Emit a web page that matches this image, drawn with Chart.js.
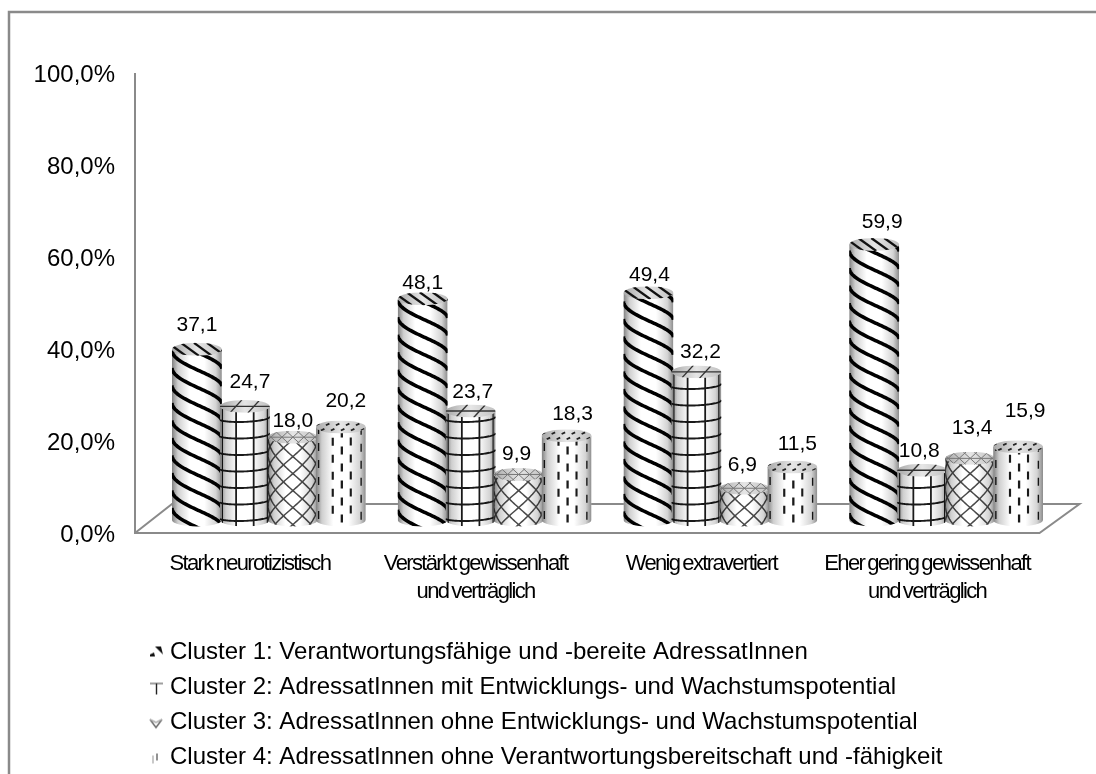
<!DOCTYPE html>
<html><head><meta charset="utf-8">
<style>html,body{margin:0;padding:0;background:#fff}canvas{display:block}</style>
<script src="https://cdn.jsdelivr.net/npm/chart.js@4/dist/chart.umd.js"></script>
</head><body><canvas id="c" width="1096" height="774"></canvas>
<script>
const categories = [
  "Stark neurotizistisch",
  ["Verstärkt gewissenhaft","und verträglich"],
  "Wenig extravertiert",
  ["Eher gering gewissenhaft","und verträglich"]
];
const seriesNames = [
  "Cluster 1: Verantwortungsfähige und -bereite AdressatInnen",
  "Cluster 2: AdressatInnen mit Entwicklungs- und Wachstumspotential",
  "Cluster 3: AdressatInnen ohne Entwicklungs- und Wachstumspotential",
  "Cluster 4: AdressatInnen ohne Verantwortungsbereitschaft und -fähigkeit"
];
const cluster1 = [37.1, 48.1, 49.4, 59.9];
const cluster2 = [24.7, 23.7, 32.2, 10.8];
const cluster3 = [18.0, 9.9, 6.9, 13.4];
const cluster4 = [20.2, 18.3, 11.5, 15.9];
const yTicks = [0, 20, 40, 60, 80, 100];
// label nudges (dx, dy from bar top), per series then category
const labelNudge = [
  [[0,-24],[0,-16],[1,-18],[8,-22]],
  [[5,-24],[2,-19],[4,-20],[-3,-19]],
  [[0,-16],[-2,-20],[-2,-23],[2,-30]],
  [[5,-26],[6,-22],[5,-23],[7,-36]]
];
const GRAY = '#8a8a8a', LIFT = 13, FONT = '"Liberation Sans", Arial, sans-serif';
let currentKind = 0;

function band(ctx, cx, r, e, y0, s, lw, color){
  ctx.beginPath();
  let first=true;
  for(let t=-Math.PI/2; t<=Math.PI/2+0.001; t+=0.06){
    const x=cx+r*Math.sin(t), y=y0+s*t+e*Math.cos(t);
    if(first){ctx.moveTo(x,y);first=false;} else ctx.lineTo(x,y);
  }
  ctx.lineWidth=lw; ctx.strokeStyle=color; ctx.stroke();
}
const bodyTex = [
  (ctx,cx,r,e,top,base)=>{ for(let y=base+40+(cx%7);y>top-60;y-=17.5) band(ctx,cx,r,e*.2,y,11.5,3.6,'#000'); },
  (ctx,cx,r,e,top,base)=>{
    for(let y=base-3;y>top-10;y-=16.5) band(ctx,cx,r,e*.6,y,-1,1.9,'#1a1a1a');
    [-1.12,-0.36,0.36,1.12].forEach(t=>{
      const x=cx+r*Math.sin(t);
      ctx.beginPath();ctx.moveTo(x,top);ctx.lineTo(x,base+e);
      ctx.lineWidth=1.9*Math.max(.6,Math.cos(t));ctx.strokeStyle='#1a1a1a';ctx.stroke();
    });
  },
  (ctx,cx,r,e,top,base)=>{
    for(let y=base+70;y>top-70;y-=17){
      band(ctx,cx,r,e*.4,y,22,1.5,'#4a4a4a');
      band(ctx,cx,r,e*.4,y,-22,1.5,'#4a4a4a');
    }
  },
  (ctx,cx,r,e,top,base)=>{
    [-1.1,-0.33,0.04,0.41,0.95].forEach((t,i)=>{
      const x=cx+r*Math.sin(t), off=(i%2)*8.5;
      ctx.lineWidth=2.3*Math.max(.6,Math.cos(t));ctx.strokeStyle='#1a1a1a';
      for(let y=base+e*Math.cos(t)-4-off;y>top-8;y-=17){
        ctx.beginPath();ctx.moveTo(x,y);ctx.lineTo(x,y-8);ctx.stroke();
      }
    });
  }
];
const capTex = [
  (ctx,cx,r,e,top)=>{ctx.strokeStyle='#111';ctx.lineWidth=2.3;
    for(let x=cx-r-8;x<cx+r+8;x+=13){ctx.beginPath();ctx.moveTo(x-9,top-e);ctx.lineTo(x+9,top+e);ctx.stroke();}},
  (ctx,cx,r,e,top)=>{ctx.strokeStyle='#333';ctx.lineWidth=1.4;
    ctx.beginPath();ctx.moveTo(cx-r,top);ctx.lineTo(cx+r,top);ctx.stroke();
    [-9,9].forEach(d=>{ctx.beginPath();ctx.moveTo(cx+d-6,top+e);ctx.lineTo(cx+d+6,top-e);ctx.stroke();});},
  (ctx,cx,r,e,top)=>{ctx.strokeStyle='#777';ctx.lineWidth=1;
    ctx.beginPath();ctx.moveTo(cx-r,top);ctx.lineTo(cx+r,top);ctx.stroke();
    for(let x=cx-r-8;x<cx+r+8;x+=11){
      ctx.beginPath();ctx.moveTo(x-7,top-e);ctx.lineTo(x+7,top+e);ctx.stroke();
      ctx.beginPath();ctx.moveTo(x+7,top-e);ctx.lineTo(x-7,top+e);ctx.stroke();}},
  (ctx,cx,r,e,top)=>{ctx.strokeStyle='#222';ctx.lineWidth=1.8;
    [[-2.6,-14],[2.6,-9]].forEach(([dy,o])=>{for(let x=cx-r+o+14;x<cx+r;x+=10){
      ctx.beginPath();ctx.moveTo(x,top+dy+0.8);ctx.lineTo(x+3.5,top+dy-0.8);ctx.stroke();}});}
];
function drawCylinder(ctx, bar){
  const kind = currentKind;
  const cx=bar.x, r=bar.width/2*1.04, e=r*0.26, top=bar.y, base=bar.base;
  ctx.save(); ctx.translate(0,-LIFT);
  ctx.save();
  ctx.beginPath(); ctx.moveTo(cx-r,top); ctx.lineTo(cx-r,base);
  ctx.ellipse(cx,base,r,e,0,Math.PI,0,true); ctx.lineTo(cx+r,top); ctx.closePath();
  ctx.clip();
  ctx.fillStyle='#fff'; ctx.fillRect(cx-r,top-e,2*r,base-top+3*e);
  bodyTex[kind](ctx,cx,r,e,top,base);
  const g=ctx.createLinearGradient(cx-r,0,cx+r,0);
  g.addColorStop(0,'#808080');g.addColorStop(.12,'#cfcfcf');g.addColorStop(.35,'#fff');
  g.addColorStop(.65,'#fff');g.addColorStop(.88,'#d4d4d4');g.addColorStop(1,'#8c8c8c');
  ctx.globalCompositeOperation='multiply';
  ctx.fillStyle=g; ctx.fillRect(cx-r,top-e,2*r,base-top+3*e);
  ctx.restore();
  ctx.save();
  ctx.beginPath(); ctx.ellipse(cx,top,r,e,0,0,Math.PI*2); ctx.clip();
  const c=ctx.createLinearGradient(cx-r,0,cx+r,0);
  c.addColorStop(0,'#a8a8a8');c.addColorStop(.5,'#e6e6e6');c.addColorStop(1,'#c0c0c0');
  ctx.fillStyle=c; ctx.fillRect(cx-r,top-e,2*r,2*e);
  capTex[kind](ctx,cx,r,e,top);
  ctx.restore();
  ctx.restore();
}
Chart.BarElement.prototype.draw = function(ctx){ drawCylinder(ctx,this); };

function swatch(kind){
  const s=document.createElement('canvas'); s.width=30; s.height=16;
  const x=s.getContext('2d'); x.translate(14,1); x.strokeStyle='#000';
  if(kind===0){ x.fillStyle='#111';
    x.beginPath();x.moveTo(6,1);x.lineTo(12,1);x.lineTo(14,9);x.closePath();x.fill();
    x.beginPath();x.moveTo(1,9);x.lineTo(5,7);x.lineTo(6,11);x.lineTo(1,11);x.closePath();x.fill();
  } else if(kind===1){ x.lineWidth=1.4;x.strokeStyle='#777';
    x.beginPath();x.moveTo(1,3);x.lineTo(14,3);x.stroke();
    x.strokeStyle='#222';x.beginPath();x.moveTo(7.5,3);x.lineTo(7.5,14);x.stroke();
  } else if(kind===2){ x.lineWidth=1.4;x.strokeStyle='#666';
    x.beginPath();x.moveTo(1,4);x.lineTo(7,12);x.lineTo(13,4);x.stroke();
    x.strokeStyle='#aaa';x.beginPath();x.moveTo(1,4);x.lineTo(7,7);x.lineTo(13,4);x.stroke();
  } else { x.lineWidth=1.6;x.strokeStyle='#777';
    x.beginPath();x.moveTo(8,3);x.lineTo(8,10);x.stroke();
    x.strokeStyle='#bbb';x.beginPath();x.moveTo(4,5);x.lineTo(4,13);x.stroke();
  }
  return s;
}

const scene = {
  id:'scene',
  beforeDraw(chart){
    const {ctx,width,height}=chart;
    ctx.save(); ctx.fillStyle='#fff'; ctx.fillRect(0,0,width,height);
    ctx.strokeStyle=GRAY; ctx.lineWidth=2.5;
    ctx.beginPath(); ctx.moveTo(9,height); ctx.lineTo(9,12); ctx.lineTo(width,12); ctx.stroke();
    ctx.restore();
    const xs=chart.scales.x;
    if(!xs._spaced){ xs._spaced=true; const o=xs.drawLabels;
      xs.drawLabels=function(a){ ctx.save(); ctx.letterSpacing='-1.65px'; ctx.wordSpacing='-1.5px'; o.call(this,a); ctx.restore(); }; }
  },
  beforeDatasetsDraw(chart){
    const {ctx,chartArea:a,scales:{y}}=chart;
    const b=y.getPixelForValue(0), t=y.getPixelForValue(100);
    ctx.save(); ctx.strokeStyle=GRAY; ctx.lineWidth=2;
    ctx.beginPath(); ctx.moveTo(a.left-21,t); ctx.lineTo(a.left-21,b);
    ctx.lineTo(a.right-19.5,b); ctx.lineTo(a.right+20.5,b-29); ctx.lineTo(a.left+16,b-29); ctx.lineTo(a.left-21,b);
    ctx.stroke(); ctx.restore();
  },
  beforeDatasetDraw(){ return false; },
  afterDatasetsDraw(chart){
    const {ctx}=chart;
    [0,1,2,3].forEach(i=>{ currentKind=i; chart.getDatasetMeta(i).controller.draw(); });
    ctx.save(); ctx.fillStyle='#000'; ctx.font='21px '+FONT;
    ctx.textAlign='center'; ctx.textBaseline='middle';
    chart.data.datasets.forEach((ds,i)=>{
      chart.getDatasetMeta(i).data.forEach((bar,j)=>{
        const [dx,dy]=labelNudge[i][j];
        ctx.fillText(ds.data[j].toFixed(1).replace('.',','),bar.x+dx,bar.y-LIFT+dy);
      });
    });
    ctx.restore();
  },
  afterLayout(chart){
    const l=chart.legend;
    l.left=131; l.right=1131; l.width=1000; l.top=629.5; l.bottom=l.top+l.height;
  }
};

new Chart(document.getElementById('c'),{
  type:'bar',
  data:{labels:categories,datasets:[cluster1,cluster2,cluster3,cluster4].map((d,i)=>({
    label:seriesNames[i],data:d,backgroundColor:'#fff',categoryPercentage:.85,barPercentage:1}))},
  plugins:[scene],
  options:{
    responsive:false,animation:false,devicePixelRatio:1,
    layout:{autoPadding:false,padding:{top:73,left:20,right:37,bottom:0}},
    scales:{
      x:{grid:{display:false,drawTicks:false},border:{display:false},
        afterFit(s){ s.height=774-532-151; },
        ticks:{autoSkip:false,maxRotation:0,minRotation:0,padding:17,labelOffset:-19,color:'#000',
          font:{family:FONT,size:22,lineHeight:1.27}}},
      y:{min:0,max:100,grid:{display:false,drawTicks:false},border:{display:false},
        afterBuildTicks(s){ s.ticks=yTicks.map(v=>({value:v})); },
        afterFit(s){ s.width=136; },
        ticks:{padding:41,labelOffset:2.5,color:'#000',font:{family:FONT,size:24},
          callback:v=>v.toFixed(1).replace('.',',')+'%'}}
    },
    plugins:{
      tooltip:{enabled:false},
      legend:{position:'bottom',align:'start',maxWidth:1000,
        labels:{usePointStyle:true,boxWidth:16,boxHeight:14,padding:11,color:'#000',
          font:{family:FONT,size:24},
          generateLabels:c=>c.data.datasets.map((d,i)=>({text:d.label,datasetIndex:i,pointStyle:swatch(i),hidden:false,lineWidth:0,fillStyle:'#fff',strokeStyle:'#fff',fontColor:'#000'}))}}
    }
  }
});
</script></body></html>
